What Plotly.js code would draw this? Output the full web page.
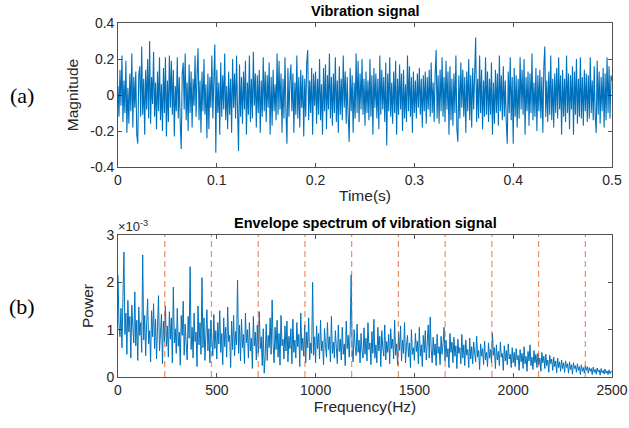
<!DOCTYPE html>
<html>
<head>
<meta charset="utf-8">
<script src="https://cdn.plot.ly/plotly-3.0.1.min.js"></script>
<style>html,body{margin:0;padding:0;background:#fff;}#chart{width:629px;height:428px;}</style>
</head>
<body>
<div id="chart"></div>
<script>
// ---- Data ----
// (a) vibration signal, sampled every 1 ms from 0 to 0.5 s
const fsSignal = 1000; // samples per second (read spacing)
const signalValues = [
0.05,-0.12,0.14,-0.06,0.22,-0.15,0.08,-0.10,0.19,-0.21,0.04,-0.16,0.12,-0.09,0.23,-0.18,0.10,-0.07,0.13,-0.22,-0.27,0.11,0.16,-0.12,0.27,
-0.11,0.09,-0.22,0.14,-0.08,0.20,-0.13,0.30,-0.16,0.10,-0.05,0.24,-0.12,0.07,-0.19,0.13,-0.09,0.21,-0.14,0.06,-0.20,0.15,-0.10,0.21,-0.23,
0.08,-0.15,0.22,-0.07,0.19,-0.11,0.14,-0.23,0.05,-0.09,0.21,-0.13,0.10,-0.16,-0.30,0.12,0.18,-0.08,0.23,-0.14,0.07,-0.20,0.17,-0.10,0.13,
-0.18,0.09,-0.06,0.22,-0.12,0.11,0.26,-0.14,0.08,-0.21,0.13,-0.09,0.20,-0.11,0.06,-0.24,0.12,-0.19,0.10,-0.07,0.22,-0.13,0.09,0.28,-0.32,
0.14,-0.10,0.07,-0.22,0.18,-0.12,0.11,-0.08,0.23,-0.14,0.05,-0.19,0.13,-0.11,0.09,-0.21,0.20,-0.07,0.12,-0.13,0.22,-0.09,-0.31,0.17,-0.12,
0.10,-0.16,0.13,-0.08,0.19,-0.22,0.07,-0.11,0.22,-0.15,0.09,-0.13,0.24,-0.06,0.12,-0.18,0.11,-0.10,0.14,-0.21,0.08,-0.12,0.21,-0.09,0.13,
-0.15,0.11,-0.07,0.18,-0.22,0.10,-0.17,0.14,-0.09,0.06,-0.14,0.23,-0.11,0.19,-0.08,0.12,-0.21,0.09,-0.13,0.21,-0.10,-0.27,0.15,-0.12,0.08,
0.17,-0.09,0.12,-0.21,0.07,-0.11,0.22,-0.13,0.10,-0.18,0.14,-0.07,0.11,-0.23,0.09,-0.12,0.18,0.25,-0.14,0.08,-0.10,0.15,-0.22,0.12,-0.06,
0.13,-0.16,0.09,-0.11,0.20,-0.14,0.06,-0.22,0.15,-0.09,0.17,-0.19,0.11,-0.08,0.23,-0.13,0.10,-0.17,0.12,-0.10,0.21,-0.15,0.08,-0.21,0.16,
-0.11,0.09,-0.14,0.22,-0.07,0.13,-0.16,0.10,-0.12,-0.26,0.15,-0.09,0.11,-0.21,0.07,-0.13,0.23,-0.10,0.19,-0.15,0.12,-0.08,0.20,-0.11,0.09,
-0.17,0.13,-0.10,0.08,-0.14,0.20,-0.12,0.11,-0.22,0.15,-0.07,0.12,-0.13,0.09,-0.19,0.22,-0.11,0.14,-0.08,0.10,-0.15,0.18,-0.28,0.12,-0.09,
0.21,-0.12,0.07,-0.16,0.13,-0.10,0.19,-0.22,0.09,-0.11,0.17,-0.08,0.12,-0.20,0.14,-0.13,0.06,-0.15,0.22,-0.09,0.16,-0.12,0.10,-0.21,0.13,
-0.10,0.08,-0.13,0.12,-0.07,0.15,-0.11,0.09,-0.18,0.11,-0.09,0.13,-0.16,0.10,-0.08,0.14,-0.12,0.18,-0.10,0.07,-0.15,0.12,0.25,-0.13,0.11,
-0.16,0.14,-0.09,0.21,-0.12,0.10,-0.15,0.19,-0.08,0.13,-0.22,0.16,-0.14,0.09,-0.17,0.12,-0.10,0.22,-0.19,-0.26,0.11,-0.13,0.18,-0.07,0.14,
-0.12,0.10,-0.21,0.13,-0.09,0.20,-0.14,0.11,-0.18,0.15,-0.08,0.12,0.32,-0.15,0.09,-0.13,0.22,-0.10,0.14,-0.19,0.08,-0.12,0.21,-0.11,0.13,
-0.15,0.09,-0.11,0.18,-0.22,0.07,-0.16,0.14,-0.10,0.12,-0.17,0.22,-0.09,0.11,-0.14,0.16,-0.12,0.08,-0.15,-0.27,0.13,-0.10,0.21,-0.14,0.10,
-0.27,0.15,-0.12,0.11,-0.18,0.09,-0.13,0.21,-0.08,0.14,-0.11,0.20,-0.22,0.10,-0.09,0.13,-0.17,0.12,-0.10,0.23,-0.14,0.07,-0.12,0.15,-0.20,
0.11,-0.09,0.14,-0.13,0.10,-0.21,0.16,0.27,-0.12,0.08,-0.15,0.13,-0.11,0.22,-0.14,0.09,-0.18,0.12,-0.10,0.15,-0.13,0.21,-0.08,0.11,-0.22,
0.14,-0.12,0.09,-0.15,0.22,-0.10,0.12,-0.19,0.11,-0.08,0.16,-0.22,0.13,-0.11,0.20,-0.16,0.09,-0.12,0.21,-0.13,0.10,-0.17,0.14,-0.09,0.12,
-0.15,0.11,-0.13,0.21,-0.10,0.08,-0.14,0.16,-0.12,-0.21,0.19,-0.11,0.13,-0.16,0.10,-0.09,0.15,-0.18,0.12,-0.14,0.21,-0.10,0.16,-0.13,0.11,
0.08
];

// (b) envelope spectrum, every 5 Hz from 0 to 2500 Hz, power in units of 1e-3
const freqStep = 5; // Hz
const powerE3 = [
2.16,1.10,0.85,1.45,0.62,1.70,2.64,0.90,1.35,0.48,1.62,0.95,1.28,0.40,1.52,1.05,0.72,1.80,0.66,1.20,0.35,1.48,0.88,1.15,0.52,
2.58,0.78,1.30,0.45,1.12,1.65,0.70,0.98,0.32,1.40,0.85,1.55,0.60,1.22,0.38,1.05,1.72,0.55,0.92,1.33,0.28,1.18,0.75,1.50,0.65,
1.08,0.42,1.38,0.80,1.25,0.30,1.90,0.72,1.02,0.50,1.45,0.65,0.95,0.25,1.30,0.88,1.60,0.46,1.12,0.70,0.36,1.28,0.82,2.33,0.58,
1.05,0.40,1.35,0.75,0.95,0.22,1.50,0.68,1.15,0.48,2.10,0.62,1.25,0.35,0.90,1.42,0.55,1.02,0.30,1.20,0.78,0.45,1.32,0.60,0.98,
0.38,1.15,0.70,1.40,0.52,0.92,0.26,1.25,0.64,1.05,0.42,1.48,0.75,0.88,0.20,1.18,0.58,1.30,0.45,0.96,0.68,2.05,0.50,1.10,0.34,
1.22,0.62,0.90,0.28,1.35,0.72,1.00,0.40,1.15,0.55,0.82,0.18,1.28,0.66,0.95,0.36,1.10,0.50,1.38,0.60,0.85,0.24,1.02,0.08,0.45,
1.12,0.35,0.88,0.62,1.25,0.48,1.63,0.70,0.30,1.05,0.58,1.20,0.42,0.92,0.25,1.30,0.66,0.80,0.38,1.08,0.55,1.18,0.32,0.86,0.60,
1.02,0.28,1.22,0.52,0.78,0.40,1.15,0.64,0.90,0.22,1.35,0.56,0.82,0.44,1.10,0.30,0.95,0.62,1.25,0.36,0.72,0.50,2.00,0.46,0.85,
0.30,1.08,0.60,0.92,0.38,1.20,0.55,0.76,0.26,1.02,0.68,0.42,1.15,0.58,0.85,0.32,1.28,0.50,0.74,0.40,0.98,0.62,0.28,1.10,0.54,
0.80,0.36,1.05,0.48,0.70,0.24,1.18,0.60,0.88,0.42,0.95,2.16,0.58,0.32,1.00,0.66,0.45,1.12,0.52,0.78,0.30,0.92,0.56,0.40,1.04,
0.48,0.82,0.34,1.15,0.58,0.72,0.26,0.96,0.50,1.22,0.40,0.68,0.30,1.05,0.55,0.86,0.22,0.98,0.62,0.44,1.10,0.36,0.75,0.52,0.90,
0.28,1.02,0.60,0.80,0.38,1.20,0.46,0.70,0.25,0.94,0.56,1.08,0.34,0.78,0.50,1.15,0.30,0.66,0.88,0.42,0.72,0.20,1.00,0.48,0.62,
0.35,0.92,0.54,0.76,0.28,1.05,0.44,0.68,0.22,0.88,0.52,0.98,0.36,0.72,1.10,0.40,1.27,0.58,0.30,0.84,0.46,0.70,0.24,0.90,0.50,
0.64,0.26,0.86,0.48,0.70,1.05,0.34,0.78,0.42,0.60,0.20,0.92,0.52,0.74,0.30,0.84,0.44,0.66,0.18,0.80,0.50,0.62,0.28,0.90,0.40,
0.68,0.24,0.78,0.46,0.58,0.20,0.82,0.38,0.64,0.28,0.74,0.50,0.32,0.86,0.42,0.56,0.16,0.70,0.44,0.60,0.26,0.76,0.36,0.52,0.22,
0.72,0.40,0.58,0.30,0.93,0.46,0.62,0.18,0.68,0.36,0.54,0.24,0.74,0.42,0.50,0.14,0.66,0.34,0.56,0.26,0.70,0.38,0.48,0.20,0.62,
0.30,0.52,0.22,0.60,0.36,0.46,0.14,0.58,0.32,0.50,0.18,0.64,0.28,0.44,0.12,0.54,0.34,0.68,0.24,0.42,0.16,0.56,0.30,0.48,0.20,
0.50,0.26,0.40,0.12,0.52,0.30,0.44,0.18,0.48,0.24,0.36,0.10,0.46,0.28,0.38,0.14,0.42,0.22,0.34,0.09,0.40,0.20,0.32,0.12,0.36,
0.18,0.30,0.10,0.34,0.20,0.28,0.08,0.32,0.16,0.26,0.06,0.30,0.18,0.24,0.10,0.28,0.14,0.22,0.05,0.26,0.12,0.20,0.08,0.24,0.14,
0.22,0.08,0.20,0.12,0.18,0.05,0.21,0.10,0.16,0.06,0.19,0.11,0.15,0.04,0.18,0.09,0.14,0.06,0.17,0.08,0.13,0.05,0.15,0.07,0.12,
0.10
];

// fault characteristic frequency harmonics (dashed markers), Hz
const harmonicFreqs = [236.5, 473, 709.5, 946, 1182.5, 1419, 1655.5, 1892, 2128.5, 2365];

// tick labels
const timeTicks = [0, 0.1, 0.2, 0.3, 0.4, 0.5];
const magTicks = [-0.4, -0.2, 0, 0.2, 0.4];
const magTickText = ['-0.4', '-0.2', '0', '0.2', '0.4'];
const freqTicks = [0, 500, 1000, 1500, 2000, 2500];
const powerTicks = [0, 1, 2, 3];

// ---- Build chart ----
const timeAxis = signalValues.map((_, i) => i / fsSignal);
const freqAxis = powerE3.map((_, i) => i * freqStep);

const blue = '#0072BD';
const axisColor = '#262626';
const font = 'Liberation Sans, Arial, sans-serif';
const titleSize = 15.5;

const traces = [
  {x: timeAxis, y: signalValues, type: 'scatter', mode: 'lines',
   line: {color: blue, width: 1.1, simplify: false}, xaxis: 'x', yaxis: 'y', hoverinfo: 'skip'},
  {x: freqAxis, y: powerE3, type: 'scatter', mode: 'lines',
   line: {color: blue, width: 1.0, simplify: false}, xaxis: 'x2', yaxis: 'y2', hoverinfo: 'skip'}
];

const shapes = harmonicFreqs.map(f => ({
  type: 'line', xref: 'x2', yref: 'y2', x0: f, x1: f, y0: 0, y1: 3,
  line: {color: 'rgba(217,83,25,0.65)', width: 1.2, dash: '6px,4px'}, layer: 'above'
}));

const axisCommon = {
  showgrid: false, zeroline: false, showline: true, mirror: 'ticks',
  linecolor: axisColor, linewidth: 0.8, ticks: 'inside', ticklen: 4,
  tickcolor: axisColor, tickwidth: 0.8,
  tickfont: {family: font, size: 14, color: axisColor}
};

const layout = {
  width: 629, height: 428,
  margin: {l: 118, r: 17, t: 23, b: 51},
  paper_bgcolor: '#fff', plot_bgcolor: '#fff',
  showlegend: false,
  xaxis: Object.assign({}, axisCommon, {
    domain: [0, 1], anchor: 'y', range: [0, 0.5],
    tickvals: timeTicks, ticktext: timeTicks.map(String),
    title: {text: 'Time(s)', font: {family: font, size: titleSize, color: axisColor}, standoff: 3}
  }),
  yaxis: Object.assign({}, axisCommon, {
    domain: [0.593, 1], anchor: 'x', range: [-0.4, 0.4],
    tickvals: magTicks, ticktext: magTickText,
    title: {text: 'Magnitude', font: {family: font, size: titleSize, color: axisColor}, standoff: 7}
  }),
  xaxis2: Object.assign({}, axisCommon, {
    domain: [0, 1], anchor: 'y2', range: [0, 2500],
    tickvals: freqTicks, ticktext: freqTicks.map(String),
    title: {text: 'Frequency(Hz)', font: {family: font, size: titleSize, color: axisColor}, standoff: 3}
  }),
  yaxis2: Object.assign({}, axisCommon, {
    domain: [0, 0.401], anchor: 'x2', range: [0, 3],
    tickvals: powerTicks, ticktext: powerTicks.map(String),
    title: {text: 'Power', font: {family: font, size: titleSize, color: axisColor}, standoff: 9}
  }),
  shapes: shapes,
  annotations: [
    {text: '<b>Vibration signal</b>', xref: 'paper', yref: 'paper', x: 0.5, y: 1, yshift: 2,
     xanchor: 'center', yanchor: 'bottom', showarrow: false,
     font: {family: font, size: 14.5, color: '#000'}},
    {text: '<b>Envelope spectrum of vibration signal</b>', xref: 'paper', yref: 'paper', x: 0.5, y: 0.401, yshift: 2,
     xanchor: 'center', yanchor: 'bottom', showarrow: false,
     font: {family: font, size: 14.5, color: '#000'}},
    {text: '×10<sup>-3</sup>', xref: 'paper', yref: 'paper', x: 0, y: 0.401, xshift: -2, yshift: -1,
     xanchor: 'left', yanchor: 'bottom', showarrow: false,
     font: {family: font, size: 13, color: axisColor}},
    {text: '(a)', xref: 'paper', yref: 'paper', x: -0.194, y: 0.795, xanchor: 'center', yanchor: 'middle',
     showarrow: false, font: {family: 'Liberation Serif, Times New Roman, serif', size: 22, color: '#000'}},
    {text: '(b)', xref: 'paper', yref: 'paper', x: -0.194, y: 0.2, xanchor: 'center', yanchor: 'middle',
     showarrow: false, font: {family: 'Liberation Serif, Times New Roman, serif', size: 22, color: '#000'}}
  ]
};

Plotly.newPlot('chart', traces, layout, {staticPlot: true, displayModeBar: false});
</script>
</body>
</html>
